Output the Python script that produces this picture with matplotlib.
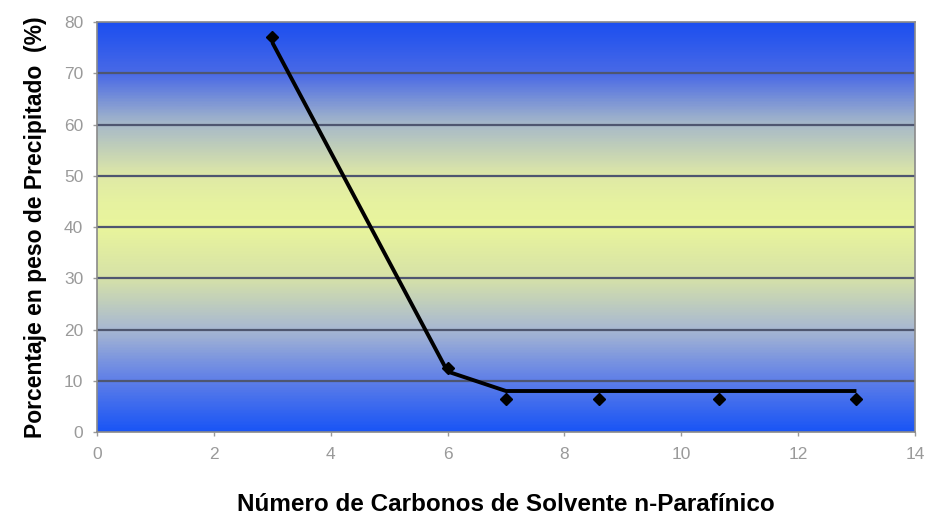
import numpy as np
import matplotlib
matplotlib.use("Agg")
import matplotlib.pyplot as plt
from matplotlib.colors import LinearSegmentedColormap

# Measured points (diamonds) and the drawn trend line.
carbonos = [3, 6, 7, 8.6, 10.65, 13]
precipitado = [77, 12.5, 6.5, 6.5, 6.5, 6.5]
linea_x = [3, 6, 7, 13]
linea_y = [76, 11.8, 8, 8]

xticks = [0, 2, 4, 6, 8, 10, 12, 14]
yticks = [0, 10, 20, 30, 40, 50, 60, 70, 80]

# Background gradient stops (value on y axis, colour).
grad_y = [0, 10, 20, 30, 40, 45, 50, 60, 70, 80]
grad_c = ["#1a55f5", "#5f7fe8", "#a8b8d2", "#d6e2a8", "#e9f59c",
          "#e6f2a0", "#dfe9a6", "#a8bac8", "#4a6ae6", "#1c4ff0"]

plt.rcParams["font.family"] = ["Liberation Sans", "DejaVu Sans"]

fig = plt.figure(figsize=(9.25, 5.17), dpi=100)
ax = fig.add_axes([0.105, 0.1644, 0.884, 0.793])

cmap = LinearSegmentedColormap.from_list(
    "fondo", [(v / 80, c) for v, c in zip(grad_y, grad_c)])
grad = np.linspace(0, 1, 400).reshape(-1, 1)
ax.imshow(grad, cmap=cmap, origin="lower", aspect="auto",
          extent=[0, 14, 0, 80], zorder=0)

for y in yticks[1:-1]:
    ax.axhline(y, color="#4e5670", lw=1.6, zorder=1)

ax.plot(linea_x, linea_y, color="black", lw=2.8, zorder=3,
        solid_capstyle="butt")
ax.plot(carbonos, precipitado, ls="none", marker="D", ms=6.5,
        color="black", zorder=4)

ax.set_xlim(0, 14)
ax.set_ylim(0, 80)
ax.set_xticks(xticks)
ax.set_yticks(yticks)
ax.tick_params(colors="#9a9a9a", labelsize=12.5, length=3, width=1)
ax.tick_params(axis="x", pad=8)
ax.tick_params(axis="y", pad=7)
for s in ax.spines.values():
    s.set_color("#8a8a8a")
    s.set_linewidth(1.2)

ax.set_xlabel("Número de Carbonos de Solvente n-Parafínico",
              fontsize=17.5, fontweight="bold", labelpad=22)
ax.set_ylabel("Porcentaje en peso de Precipitado  (%)",
              fontsize=16.5, fontweight="bold", labelpad=12)

plt.savefig("out.png", dpi=100, facecolor="w")
plt.close()
